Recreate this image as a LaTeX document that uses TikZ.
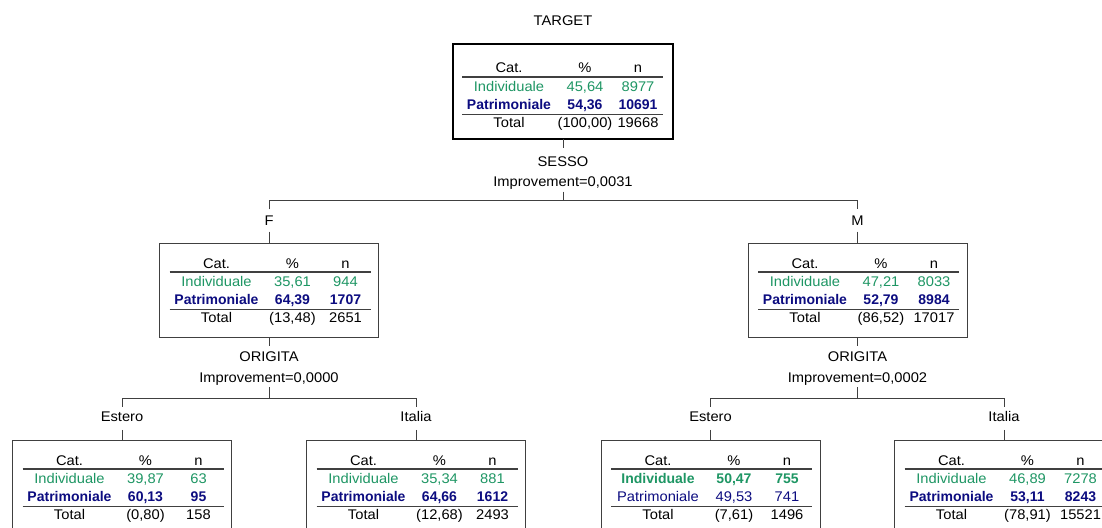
\documentclass[tikz,border=0pt]{standalone}
\usepackage{fontspec}
\setmainfont{Liberation Sans}
\newfontfamily\widefont[FakeStretch=1.05]{Liberation Sans}
\definecolor{indgreen}{RGB}{30,150,100}
\definecolor{patblue}{RGB}{12,12,128}
\definecolor{edgec}{RGB}{64,64,64}
\tikzset{
  lbl/.style={font=\fontsize{14}{16}\widefont, inner sep=0pt, text height=10pt, text depth=0pt},
  cell/.style={lbl},
  grn/.style={cell, text=indgreen},
  grnb/.style={cell, text=indgreen, font=\fontsize{14}{16}\selectfont\rmfamily\bfseries},
  blu/.style={cell, text=patblue},
  blub/.style={cell, text=patblue, font=\fontsize{14}{16}\selectfont\rmfamily\bfseries},
  box/.style={draw=edgec, line width=1pt, minimum width=219pt, minimum height=94pt, anchor=north, inner sep=0pt, outer sep=0pt},
  rootbox/.style={box, draw=black, line width=2.6pt, minimum width=220pt, minimum height=95pt},
  lowbox/.style={box, minimum height=110pt},
  conn/.style={draw=edgec, line width=1pt},
  rulel/.style={draw=edgec, line width=1.3pt}
}
\newcommand\cattab[8]{%
  \node[cell] (cat) at (57,0) {Cat.};
  \node[cell] (pct) at (133,0) {\%};
  \node[cell] (n) at (186,0) {n};
  \draw[rulel] (10,9) -- (211,9);
  \node[#7] (ilab) at (57,18) {Individuale};
  \node[#7] (ipct) at (133,18) {#1};
  \node[#7] (in) at (186,18) {#2};
  \node[#8] (plab) at (57,36.5) {Patrimoniale};
  \node[#8] (ppct) at (133,36.5) {#3};
  \node[#8] (pn) at (186,36.5) {#4};
  \draw[rulel] (10,46.5) -- (211,46.5);
  \node[cell] (tlab) at (57,54) {Total};
  \node[cell] (tpct) at (133,54) {#5};
  \node[cell] (tn) at (186,54) {#6};
}
\begin{document}
\begin{tikzpicture}[x=1pt,y=-1pt]
\useasboundingbox (0,0) rectangle (1102,527);
\clip (0,0) rectangle (1102,527);
\fill[white] (0,0) rectangle (1102,527);

% root
\node[lbl] (target) at (563,20.5) {TARGET};
\node[rootbox] (root) at (563,44) {};
\begin{scope}[shift={(452,68)}, name prefix=root-]
  \cattab{45,64}{8977}{54,36}{10691}{(100,00)}{19668}{grn}{blub}
\end{scope}
\node[lbl] (sesso) at (563,161.5) {SESSO};
\node[lbl] (imp1) at (563,181.5) {Improvement=0,0031};
\coordinate (j1) at (563,200.5);

% level 1
\node[lbl] (fl) at (269,220) {F};
\node[lbl] (ml) at (857.5,220) {M};
\node[box] (F) at (269,243) {};
\node[box] (M) at (857.5,243) {};
\begin{scope}[shift={(159.5,263)}, name prefix=F-]
  \cattab{35,61}{944}{64,39}{1707}{(13,48)}{2651}{grn}{blub}
\end{scope}
\begin{scope}[shift={(748,263)}, name prefix=M-]
  \cattab{47,21}{8033}{52,79}{8984}{(86,52)}{17017}{grn}{blub}
\end{scope}
\node[lbl] (origF) at (269,356.5) {ORIGITA};
\node[lbl] (imp2) at (269,377) {Improvement=0,0000};
\node[lbl] (origM) at (857.5,356.5) {ORIGITA};
\node[lbl] (imp3) at (857.5,377) {Improvement=0,0002};
\coordinate (j2) at (269,398.5);
\coordinate (j3) at (857.5,398.5);

% level 2
\node[lbl] (e1) at (122,416.7) {Estero};
\node[lbl] (i1) at (416,416.7) {Italia};
\node[lbl] (e2) at (710.5,416.7) {Estero};
\node[lbl] (i2) at (1004,416.7) {Italia};
\node[lowbox] (B1) at (122,440) {};
\node[lowbox] (B2) at (416,440) {};
\node[lowbox] (B3) at (710.5,440) {};
\node[lowbox] (B4) at (1004,440) {};
\begin{scope}[shift={(12.5,460)}, name prefix=B1-]
  \cattab{39,87}{63}{60,13}{95}{(0,80)}{158}{grn}{blub}
\end{scope}
\begin{scope}[shift={(306.5,460)}, name prefix=B2-]
  \cattab{35,34}{881}{64,66}{1612}{(12,68)}{2493}{grn}{blub}
\end{scope}
\begin{scope}[shift={(601,460)}, name prefix=B3-]
  \cattab{50,47}{755}{49,53}{741}{(7,61)}{1496}{grnb}{blu}
\end{scope}
\begin{scope}[shift={(894.5,460)}, name prefix=B4-]
  \cattab{46,89}{7278}{53,11}{8243}{(78,91)}{15521}{grn}{blub}
\end{scope}

% connectors
\draw[conn, shorten >=8.5pt] (root.south) -- (sesso.north);
\draw[conn, shorten <=5pt] (imp1.south) -- (j1);
\draw[conn, shorten <=5.5pt, shorten >=5.5pt] (fl.north) |- (j1) -| (ml.north);
\draw[conn, shorten <=6.5pt] (fl.south) -- (F.north);
\draw[conn, shorten <=6.5pt] (ml.south) -- (M.north);

\draw[conn, shorten >=5.5pt] (F.south) -- (origF.north);
\draw[conn, shorten >=5.5pt] (M.south) -- (origM.north);
\draw[conn, shorten <=5pt] (imp2.south) -- (j2);
\draw[conn, shorten <=5pt] (imp3.south) -- (j3);
\draw[conn, shorten <=4.7pt, shorten >=4.7pt] (e1.north) |- (j2) -| (i1.north);
\draw[conn, shorten <=4.7pt, shorten >=4.7pt] (e2.north) |- (j3) -| (i2.north);
\draw[conn, shorten <=8pt] (e1.south) -- (B1.north);
\draw[conn, shorten <=8pt] (i1.south) -- (B2.north);
\draw[conn, shorten <=8pt] (e2.south) -- (B3.north);
\draw[conn, shorten <=8pt] (i2.south) -- (B4.north);
\end{tikzpicture}
\end{document}
